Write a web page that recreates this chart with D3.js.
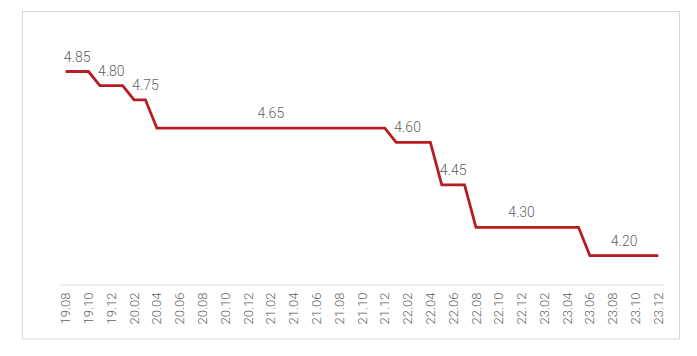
<!DOCTYPE html>
<html>
<head>
<meta charset="utf-8">
<script src="https://cdn.jsdelivr.net/npm/d3@7/dist/d3.min.js"></script>
<style>
  html, body { margin: 0; padding: 0; background: #fff; }
  svg { display: block; }
</style>
</head>
<body>
<svg id="chart" width="697" height="356"></svg>
<script>
// ---- data ----
const months = [
  "19.08","19.09","19.10","19.11","19.12",
  "20.01","20.02","20.03","20.04","20.05","20.06","20.07","20.08","20.09","20.10","20.11","20.12",
  "21.01","21.02","21.03","21.04","21.05","21.06","21.07","21.08","21.09","21.10","21.11","21.12",
  "22.01","22.02","22.03","22.04","22.05","22.06","22.07","22.08","22.09","22.10","22.11","22.12",
  "23.01","23.02","23.03","23.04","23.05","23.06","23.07","23.08","23.09","23.10","23.11","23.12"
];
const lpr5y = [
  4.85,4.85,4.85,4.80,4.80,
  4.80,4.75,4.75,4.65,4.65,4.65,4.65,4.65,4.65,4.65,4.65,4.65,
  4.65,4.65,4.65,4.65,4.65,4.65,4.65,4.65,4.65,4.65,4.65,4.65,
  4.60,4.60,4.60,4.60,4.45,4.45,4.45,4.30,4.30,4.30,4.30,4.30,
  4.30,4.30,4.30,4.30,4.30,4.20,4.20,4.20,4.20,4.20,4.20,4.20
];
const tickLabels = months.filter((m, i) => i % 2 === 0);
const labelMonths = ["19.09","19.12","20.03","21.02","22.02","22.06","22.12","23.09"];
const labelValues = [4.85, 4.80, 4.75, 4.65, 4.60, 4.45, 4.30, 4.20];

// ---- layout ----
const svg = d3.select("#chart");
const textColor = "#5f5f5f";
const lineColor = "#B71C22";
const font = "Roboto, 'Liberation Sans', Arial, sans-serif";

svg.append("rect")
  .attr("x", 22.5).attr("y", 11.5)
  .attr("width", 657).attr("height", 327.5)
  .attr("fill", "#fff").attr("stroke", "#d9d9d9").attr("stroke-width", 1);

const x = d3.scaleBand().domain(months).range([60, 664]).padding(0);
const y = d3.scaleLinear().domain([4.1, 5.0]).range([284, 29]);
const cx = m => x(m) + x.bandwidth() / 2;

// axis
const axis = d3.axisBottom(x).tickValues(tickLabels).tickSize(0).tickSizeOuter(0);
const gx = svg.append("g").attr("transform", "translate(0,284.5)").call(axis);
gx.select(".domain").attr("stroke", "#d9d9d9").attr("stroke-width", 1);
gx.selectAll(".tick text")
  .attr("transform", "rotate(-90)")
  .attr("text-anchor", "end")
  .attr("x", -8)
  .attr("y", 0)
  .attr("dy", "0.35em")
  .attr("fill", textColor)
  .style("font-family", font)
  .style("font-weight", 300)
  .style("font-size", "13px");

// line
const line = d3.line()
  .x((d, i) => cx(months[i]))
  .y(d => y(d));

svg.append("path")
  .datum(lpr5y)
  .attr("d", line)
  .attr("fill", "none")
  .attr("stroke", lineColor)
  .attr("stroke-width", 2.8)
  .attr("stroke-linejoin", "miter");

// data labels
svg.append("g").selectAll("text")
  .data(labelMonths)
  .join("text")
  .attr("x", d => cx(d))
  .attr("y", (d, i) => y(labelValues[i]) - 10)
  .attr("text-anchor", "middle")
  .attr("fill", textColor)
  .style("font-family", font)
  .style("font-weight", 300)
  .style("font-size", "14px")
  .text((d, i) => labelValues[i].toFixed(2));
</script>
</body>
</html>
